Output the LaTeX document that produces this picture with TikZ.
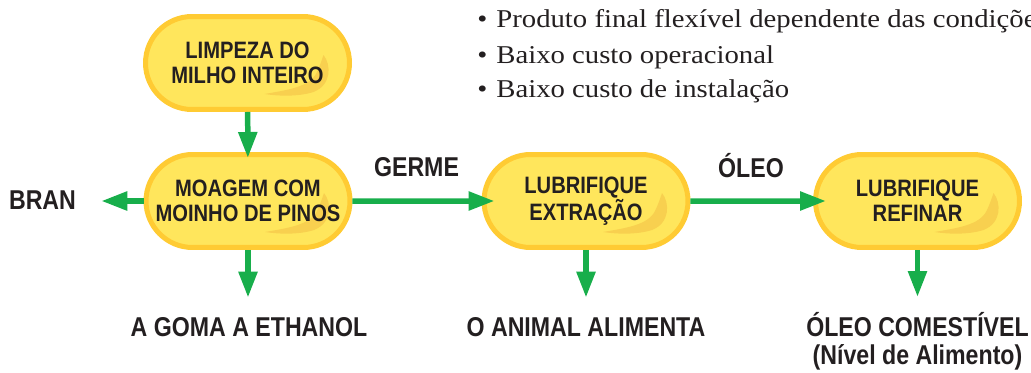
\documentclass[tikz,border=0pt]{standalone}
\usepackage{fontspec}
\usepackage{tikz}
\usetikzlibrary{shapes.misc}
\usetikzlibrary{arrows.meta}
\newfontfamily\stagefont[FakeStretch=0.85]{Liberation Sans}
\newfontfamily\notefont[FakeStretch=1.12]{Liberation Serif}
\definecolor{boxfill}{HTML}{FFE65C}
\definecolor{boxedge}{HTML}{FFCB33}
\definecolor{shine}{HTML}{F8E7DB}
\definecolor{flowgreen}{HTML}{18AE4B}
\definecolor{ink}{HTML}{231F20}
\tikzstyle{stage}=[rounded rectangle, draw=boxedge, fill=boxfill, line width=0.1cm, minimum width=4.08cm, minimum height=1.86cm, inner sep=0, align=center, text=ink, font=\stagefont\bfseries\fontsize{13.5}{14.2}\selectfont]
\tikzstyle{product}=[inner sep=0, align=center, text=ink, font=\stagefont\bfseries\fontsize{15.5}{15.9}\selectfont]
\tikzstyle{note}=[anchor=base west, inner sep=0, text=ink, font=\notefont\fontsize{14.6}{17}\selectfont]
\tikzstyle{flow}=[draw=flowgreen, line width=0.11cm, -{Triangle[length=0.52cm,width=0.36cm]}]

\begin{document}
\begin{tikzpicture}[x=0.02cm,y=-0.02cm]
\useasboundingbox (0,0) rectangle (1031,372);
\clip (0,0) rectangle (1031,372);
% process stages
\node[stage] (limpeza) at (247.5,63) {LIMPEZA DO\\MILHO INTEIRO};
\node[stage] (moagem) at (248,201) {MOAGEM COM\\MOINHO DE PINOS};
\node[stage] (extracao) at (586,201) {LUBRIFIQUE\\EXTRAÇÃO};
\node[stage] (refinar) at (917.5,201) {LUBRIFIQUE\\REFINAR};
% glossy spot, multiplied so the text stays on top
\foreach \b in {limpeza,moagem,extracao,refinar}{
  \begin{scope}[shift={(\b.center)}]
  \fill[shine, blend mode=multiply] (76,-8) .. controls (84,2) and (84,22) .. (66,29) .. controls (50,34) and (30,33) .. (17,31) .. controls (40,27) and (62,24) .. (69,10) .. controls (72,4) and (74,-2) .. cycle;
  \end{scope}
}
% products
\node[product, anchor=base] (bran) at (42.5,209) {BRAN};
\node[product, anchor=base] (germe) at (416.5,176) {GERME};
\node[product, anchor=base] (oleo) at (751,177) {ÓLEO};
\node[product, anchor=base] (goma) at (249,336) {A GOMA A ETHANOL};
\node[product, anchor=base] (animal) at (586,336) {O ANIMAL ALIMENTA};
\node[product, anchor=north] (comestivel) at (917.5,312) {ÓLEO COMESTÍVEL\\(Nível de Alimento)};
% flows
\draw[flow, shorten >=-0.12cm] (limpeza) -- (moagem);
\draw[flow, shorten >=0.5cm] (moagem.west) -- (moagem.west -| bran.east);
\draw[flow, shorten >=-0.26cm] (moagem) -- (extracao);
\draw[flow, shorten >=-0.26cm] (extracao) -- (refinar);
\draw[flow, shorten >=0.38cm] (moagem.south) -- (moagem.south |- goma.north);
\draw[flow, shorten >=0.38cm] (extracao.south) -- (extracao.south |- animal.north);
\draw[flow, shorten >=0.3cm] (refinar.south) -- (refinar.south |- comestivel.north);
% notes
\node[note] (note1) at (477,28) {\makebox[0.38cm][l]{•}Produto final flexível dependente das condições};
\node[note] (note2) at (477,63) {\makebox[0.38cm][l]{•}Baixo custo operacional};
\node[note] (note3) at (477,97) {\makebox[0.38cm][l]{•}Baixo custo de instalação};
\end{tikzpicture}
\end{document}
